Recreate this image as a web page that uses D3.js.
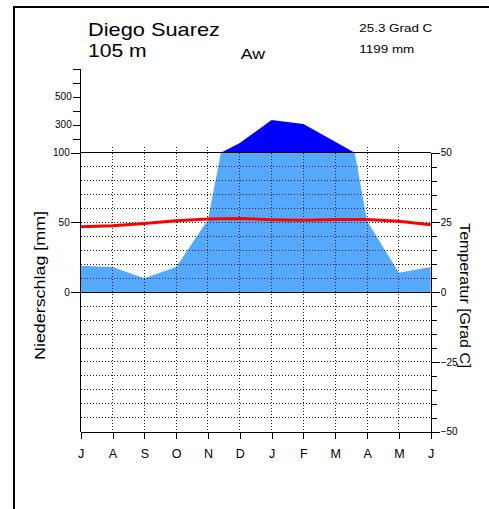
<!DOCTYPE html>
<html>
<head>
<meta charset="utf-8">
<script src="https://cdn.jsdelivr.net/npm/d3@7"></script>
<style>
  body { margin: 0; background: #fff; }
  text { font-family: "Liberation Sans", Arial, Helvetica, sans-serif; fill: #000; }
</style>
</head>
<body>
<svg id="chart" width="489" height="509"></svg>
<script>
// Diego Suarez, monthly values July .. June
const months = ["J", "A", "S", "O", "N", "D", "J", "F", "M", "A", "M", "J"];
const precip = [19, 18, 10, 18, 52, 170, 333, 305, 178, 51, 14, 18];
const temp = [23.5, 23.8, 24.6, 25.6, 26.2, 26.4, 26.0, 25.8, 26.1, 26.1, 25.4, 24.2];
const lowTicks = [0, 50, 100];
const highTicks = [200, 300, 400, 500, 600, 700];
const highLabels = [300, 500];
const tempTicks = [-50, -25, 0, 25, 50];

const svg = d3.select("#chart");

const x = d3.scaleLinear().domain([0, 11]).range([80.7, 430.7]);
const yTemp = d3.scaleLinear().domain([-50, 50]).range([431.7, 152.7]);
const yLow = d3.scaleLinear().domain([0, 100]).range([yTemp(0), yTemp(50)]);
const yHigh = d3.scaleLinear().domain([100, 700]).range([yTemp(50), 68.7]);

// frame
svg.append("rect")
    .attr("x", 14).attr("y", 7)
    .attr("width", 520).attr("height", 540)
    .attr("fill", "none")
    .attr("stroke", "#000")
    .attr("stroke-width", 2);

// precipitation points with crossings at 100 mm inserted
const pts = [];
precip.forEach((p, i) => {
    pts.push({ i: i, p: p });
    if (i < precip.length - 1) {
        const q = precip[i + 1];
        if ((p - 100) * (q - 100) < 0) {
            const t = (100 - p) / (q - p);
            pts.push({ i: i + t, p: 100 });
        }
    }
});

svg.append("path")
    .datum(pts)
    .attr("fill", "#55aaff")
    .attr("d", d3.area()
        .x(d => x(d.i))
        .y0(yLow(0))
        .y1(d => yLow(Math.min(d.p, 100))));

svg.append("path")
    .datum(pts)
    .attr("fill", "#0000ff")
    .attr("d", d3.area()
        .defined(d => d.p >= 100)
        .x(d => x(d.i))
        .y0(yHigh(100))
        .y1(d => yHigh(d.p)));

// dotted grid
const grid = svg.append("g")
    .attr("stroke", "#222")
    .attr("stroke-width", 1)
    .attr("stroke-dasharray", "1,2")
    .attr("shape-rendering", "crispEdges");

grid.selectAll(".hg")
    .data(d3.range(-45, 50, 5).filter(v => v !== 0))
    .enter().append("line")
    .attr("x1", x(0)).attr("x2", x(11))
    .attr("y1", d => yTemp(d)).attr("y2", d => yTemp(d));

grid.selectAll(".vg")
    .data(d3.range(1, 11))
    .enter().append("line")
    .attr("x1", d => x(d)).attr("x2", d => x(d))
    .attr("y1", yHigh(100) - 6).attr("y2", yTemp(-50));

// solid lines at 0 and 100 mm
svg.selectAll(".solid")
    .data([0, 100])
    .enter().append("line")
    .attr("x1", x(0)).attr("x2", x(11))
    .attr("y1", d => yLow(d)).attr("y2", d => yLow(d))
    .attr("stroke", "#000")
    .attr("shape-rendering", "crispEdges");

// temperature line
svg.append("path")
    .datum(temp)
    .attr("fill", "none")
    .attr("stroke", "#ff0000")
    .attr("stroke-width", 3)
    .attr("d", d3.line().x((d, i) => x(i)).y(d => yTemp(d)));

function styleAxis(g, size) {
    g.selectAll("text").style("font-size", size + "px").attr("fill", "#000");
    g.selectAll("line").attr("stroke", "#000");
    g.attr("shape-rendering", "crispEdges");
}

// left axis
svg.append("line")
    .attr("x1", x(0)).attr("x2", x(0))
    .attr("y1", yHigh(700)).attr("y2", yTemp(-50))
    .attr("stroke", "#000")
    .attr("shape-rendering", "crispEdges");

const leftLow = svg.append("g")
    .attr("transform", `translate(${x(0)},0)`)
    .call(d3.axisLeft(yLow).tickValues(lowTicks).tickSize(10).tickPadding(1));
leftLow.select(".domain").remove();
styleAxis(leftLow, 10);

const leftHigh = svg.append("g")
    .attr("transform", `translate(${x(0)},0)`)
    .call(d3.axisLeft(yHigh).tickValues(highTicks).tickSize(8).tickPadding(1)
        .tickFormat(d => highLabels.includes(d) ? d : ""));
leftHigh.select(".domain").remove();
styleAxis(leftHigh, 10);

// right axis
const rightMinor = svg.append("g")
    .attr("transform", `translate(${x(11)},0)`)
    .call(d3.axisRight(yTemp).tickValues(d3.range(-50, 51, 5)).tickSize(6).tickSizeOuter(0).tickFormat(""));
styleAxis(rightMinor, 10);
rightMinor.select(".domain").attr("stroke", "#000");

const rightMajor = svg.append("g")
    .attr("transform", `translate(${x(11)},0)`)
    .call(d3.axisRight(yTemp).tickValues(tempTicks).tickSize(9).tickPadding(1));
rightMajor.select(".domain").remove();
styleAxis(rightMajor, 10);

// bottom axis
const bottom = svg.append("g")
    .attr("transform", `translate(0,${yTemp(-50)})`)
    .call(d3.axisBottom(x).tickValues(d3.range(12)).tickSize(7).tickSizeOuter(0).tickPadding(10)
        .tickFormat(i => months[i]));
styleAxis(bottom, 12.5);
bottom.select(".domain").attr("stroke", "#000");

// titles
const labels = [
    { t: "Diego Suarez", x: 88, y: 36, s: 18.5, w: 132 },
    { t: "105 m", x: 88, y: 56.7, s: 18.5, w: 58.7 },
    { t: "Aw", x: 240.7, y: 59.3, s: 15, w: 24.3 },
    { t: "25.3 Grad C", x: 359.3, y: 32.3, s: 11.5, w: 73 },
    { t: "1199 mm", x: 359.3, y: 52.7, s: 11.5, w: 55 }
];
svg.selectAll(".title")
    .data(labels)
    .enter().append("text")
    .attr("x", d => d.x).attr("y", d => d.y)
    .style("font-size", d => d.s + "px")
    .attr("textLength", d => d.w)
    .attr("lengthAdjust", "spacingAndGlyphs")
    .text(d => d.t);

svg.append("text")
    .attr("transform", "translate(45,285.5) rotate(-90)")
    .attr("text-anchor", "middle")
    .style("font-size", "14px")
    .attr("textLength", 149)
    .attr("lengthAdjust", "spacingAndGlyphs")
    .text("Niederschlag [mm]");

svg.append("text")
    .attr("transform", "translate(459.5,295.8) rotate(90)")
    .attr("text-anchor", "middle")
    .style("font-size", "14px")
    .attr("textLength", 145)
    .attr("lengthAdjust", "spacingAndGlyphs")
    .text("Temperatur [Grad C]");
</script>
</body>
</html>
